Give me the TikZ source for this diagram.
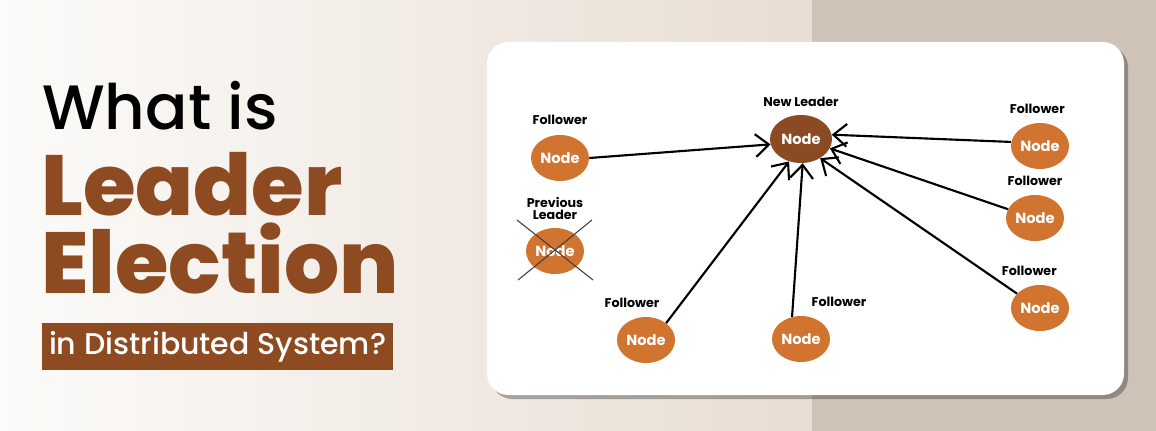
\documentclass[tikz,border=0pt]{standalone}
\usepackage{fontspec}
\setmainfont{Poppins}
\newfontfamily\heavyfont{Poppins ExtraBold}
\newfontfamily\mediumfont{Poppins Medium}
\usetikzlibrary{shapes.geometric, positioning, arrows.meta, shadows}

\definecolor{bgleft}{HTML}{FCFBF9}
\definecolor{bgright}{HTML}{E8DDD2}
\definecolor{panel}{HTML}{CFC2B6}
\definecolor{titlebrown}{HTML}{8E4A20}
\definecolor{peerorange}{HTML}{D17430}
\definecolor{leadbrown}{HTML}{8A4A22}

\begin{document}
\begin{tikzpicture}[
            x=0.75pt, y=-0.75pt,
            node distance=7pt,
            peer/.style={
                    ellipse,
                    fill=peerorange,
                    text=white,
                    inner sep=0pt,
                    minimum width=43.5pt,
                    minimum height=34.5pt,
                    font=\bfseries\fontsize{11}{13}\selectfont
                },
            leadnode/.style={
                    peer,
                    fill=leadbrown,
                    minimum width=46.5pt,
                    minimum height=36pt
                },
            role/.style={
                    inner sep=0pt,
                    align=center,
                    font=\bfseries\fontsize{9.5}{9}\selectfont
                },
            vote/.style={
                    draw,
                    line width=1.6pt,
                    -{Straight Barb[length=10pt, width=17pt, line width=1.6pt]}
                },
            title/.style={
                    anchor=base west,
                    inner sep=0pt
                }
        ]

        % Background
        \useasboundingbox (0,0) rectangle (1156,431);
        \shade [left color=bgleft, right color=bgright] (0,0) rectangle (812,431);
        \fill [panel] (812,0) rectangle (1156,431);
        \fill [white, rounded corners=16pt,
            drop shadow={shadow xshift=3pt, shadow yshift=-3pt, fill=black, opacity=0.3}]
            (487,42) rectangle (1124,395);

        % Title
        \node [title, font=\mediumfont\fontsize{47}{47}\selectfont] (what) at (42,130) {What is};
        \node [title, text=titlebrown, font=\heavyfont\fontsize{64}{64}\selectfont] (lead1) at (41,215) {Leader};
        \node [title, text=titlebrown, font=\heavyfont\fontsize{65}{65}\selectfont] (lead2) at (41,293) {Election};
        \node [fill=titlebrown, text=white, anchor=north west, inner sep=0pt,
            minimum width=263pt, minimum height=35.25pt,
            font=\mediumfont\fontsize{22.5}{22.5}\selectfont] (sub) at (42,323) {in Distributed System?};

        % Nodes
        \node [leadnode] (lead) at (801,139) {Node};
        \node [peer] (fol1) at (560,158) {Node};
        \node [peer] (prev) at (555,251) {Node};
        \node [peer] (fol2) at (646,340) {Node};
        \node [peer] (fol3) at (801,339) {Node};
        \node [peer] (fol4) at (1040,146) {Node};
        \node [peer] (fol5) at (1035,218) {Node};
        \node [peer] (fol6) at (1040,308) {Node};

        % Labels
        \node [role, above=6pt of lead] (leadlbl) {New Leader};
        \node [role, above=7.5pt of fol1] (fol1lbl) {Follower};
        \node [role, above=6pt of prev] (prevlbl) {Previous\\Leader};
        \node [role, above=7pt of fol2, xshift=-10.5pt] (fol2lbl) {Follower};
        \node [role, above=7pt of fol3, xshift=28.5pt] (fol3lbl) {Follower};
        \node [role, above=7pt of fol4, xshift=-2pt] (fol4lbl) {Follower};
        \node [role, above=7pt of fol5] (fol5lbl) {Follower};
        \node [role, above=7pt of fol6, xshift=-8pt] (fol6lbl) {Follower};

        % Old leader crossed out
        \draw [black!75, line width=0.8pt] ([shift={(-38,-31)}]prev.center) -- ([shift={(38,29)}]prev.center);
        \draw [black!75, line width=0.8pt] ([shift={(37,-31)}]prev.center) -- ([shift={(-37,29)}]prev.center);

        % Votes for the new leader
        \path [vote] (fol1.0) -- (lead.190);
        \path [vote] (fol2.40) -- (lead.-118);
        \path [vote] (fol3.112) -- (lead.-86);
        \path [vote] (fol4.172) -- (lead.8);
        \path [vote] (fol5.162) -- (lead.-18);
        \path [vote] (fol6.148) -- (lead.-45);
    \end{tikzpicture}
\end{document}
